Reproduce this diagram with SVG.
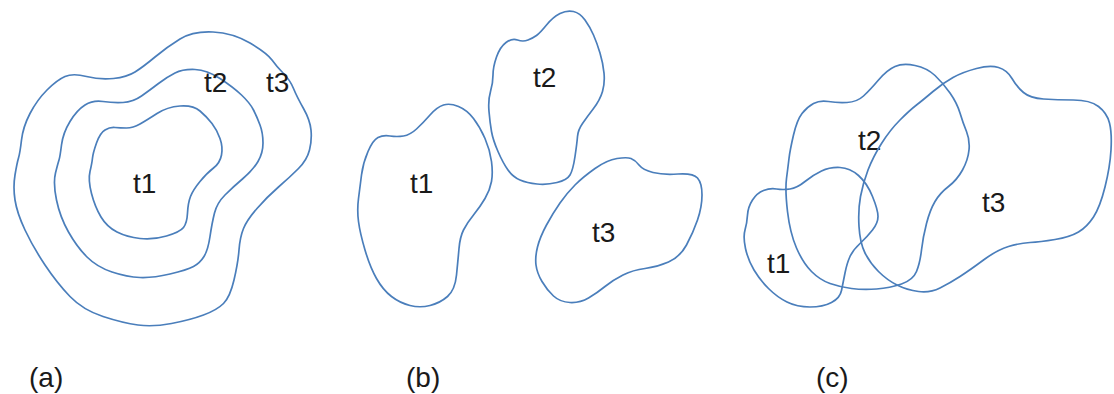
<svg xmlns="http://www.w3.org/2000/svg" width="1114" height="394" viewBox="0 0 1114 394">
<style>
.r{fill:none;stroke:#4a7ebb;stroke-width:1.7;stroke-linejoin:round}
.t{font-family:"Liberation Sans",Arial,sans-serif;font-size:28px;fill:#1a1a1a}
.c{font-family:"Liberation Sans",Arial,sans-serif;font-size:28px;fill:#1a1a1a}
</style>
<rect width="1114" height="394" fill="#ffffff"/>
<g id="panel-a">
<g id="a-t3">
<path class="r" d="M213,32 Q233,33 250,43 Q267,53 272,60 Q277,67 283.5,73.5 Q290,80 293.5,88.5 Q297,97 303.5,108.5 Q310,120 311,130 Q312,140 309.5,150 Q307,160 298.5,168.5 Q290,177 278.5,187 Q267,197 257,208.5 Q247,220 243.5,228.5 Q240,237 239,250 Q238,263 234,280 Q230,297 223.5,303.5 Q217,310 203.5,315 Q190,320 171.5,323.5 Q153,327 138,325 Q123,323 103,316.5 Q83,310 70,296.5 Q57,283 45,265 Q33,247 25,230 Q17,213 15,200 Q13,187 15,175 Q17,163 18.5,158 Q20,153 21.5,140 Q23,127 30,113.5 Q37,100 47,90 Q57,80 65,76.5 Q73,73 86.5,76.5 Q100,80 113.5,78.5 Q127,77 135,72 Q143,67 155,57 Q167,47 180,39 Q193,31 213,32 Z"/>
<text class="t" x="266" y="92">t3</text>
</g>
<g id="a-t2">
<path class="r" d="M195,69.5 Q207,70 220,78.5 Q233,87 241.5,95 Q250,103 253.5,110 Q257,117 260,125 Q263,133 263,143 Q263,153 258,161.5 Q253,170 243,178.5 Q233,187 225,195 Q217,203 214.5,213 Q212,223 210,236.5 Q208,250 204,256.5 Q200,263 193.5,266.5 Q187,270 170,274 Q153,278 140,277.5 Q127,277 112,272 Q97,267 87,257 Q77,247 68.5,232 Q60,217 56.5,200 Q53,183 55.5,173 Q58,163 59,160 Q60,157 61.5,145 Q63,133 70,121.5 Q77,110 85,105 Q93,100 103,101.5 Q113,103 123,102.5 Q133,102 141.5,96 Q150,90 158.5,83.5 Q167,77 175,73 Q183,69 195,69.5 Z"/>
<text class="t" x="204" y="92">t2</text>
</g>
<g id="a-t1">
<path class="r" d="M180,106 Q193,105 200,111 Q207,117 212,123.5 Q217,130 220,138.5 Q223,147 221.5,155 Q220,163 213.5,168 Q207,173 200,181.5 Q193,190 190.5,196.5 Q188,203 187.5,213 Q187,223 183.5,227.5 Q180,232 166.5,236 Q153,240 140,238.5 Q127,237 117,232 Q107,227 101,217 Q95,207 91.5,193.5 Q88,180 90,171.5 Q92,163 92.5,158 Q93,153 96.5,143 Q100,133 105,130 Q110,127 115,127.5 Q120,128 126.5,128 Q133,128 140,124 Q147,120 157,113.5 Q167,107 180,106 Z"/>
<text class="t" x="133" y="193">t1</text>
</g>
</g>
<g id="panel-b">
<g id="b-t1">
<path class="r" d="M458.5,106.5 Q467,110 473.5,118.5 Q480,127 485,138.5 Q490,150 491.5,161.5 Q493,173 491.5,181.5 Q490,190 485,198.5 Q480,207 473.5,215 Q467,223 463.5,230 Q460,237 459,248.5 Q458,260 456.5,275 Q455,290 447.5,296.5 Q440,303 430,305.5 Q420,308 410,305.5 Q400,303 391.5,296.5 Q383,290 376.5,278.5 Q370,267 365,250 Q360,233 358.5,221.5 Q357,210 358.5,198.5 Q360,187 361.5,175 Q363,163 368,151.5 Q373,140 378,137.5 Q383,135 390,136 Q397,137 403.5,136 Q410,135 416.5,129 Q423,123 430,115 Q437,107 443.5,105 Q450,103 458.5,106.5 Z"/>
<text class="t" x="410" y="193">t1</text>
</g>
<g id="b-t2">
<path class="r" d="M573.5,11.5 Q580,13 585,20 Q590,27 593.5,35 Q597,43 600,53 Q603,63 604,73 Q605,83 602.5,91.5 Q600,100 593.5,108.5 Q587,117 582.5,123.5 Q578,130 577.5,136.5 Q577,143 575,156.5 Q573,170 570,175 Q567,180 557,182.5 Q547,185 537,184 Q527,183 520,180 Q513,177 508,170 Q503,163 498,151.5 Q493,140 491.5,131.5 Q490,123 489,111.5 Q488,100 490.5,91.5 Q493,83 493,75 Q493,67 496.5,57 Q500,47 506,42.5 Q512,38 517.5,40 Q523,42 528,40 Q533,38 536.5,35.5 Q540,33 546.5,25 Q553,17 560,13.5 Q567,10 573.5,11.5 Z"/>
<text class="t" x="533" y="87">t2</text>
</g>
<g id="b-t3">
<path class="r" d="M631,158.5 Q635,160 639,165 Q643,170 653,172.5 Q663,175 678,174 Q693,173 697.5,178 Q702,183 702,195 Q702,207 697.5,220 Q693,233 686.5,245 Q680,257 668.5,262 Q657,267 645,268.5 Q633,270 623,275 Q613,280 605,286.5 Q597,293 588.5,298 Q580,303 570,302.5 Q560,302 553.5,296 Q547,290 542,281.5 Q537,273 536,265 Q535,257 537.5,247 Q540,237 546.5,225 Q553,213 560,203 Q567,193 575,185 Q583,177 595,168.5 Q607,160 617,158.5 Q627,157 631,158.5 Z"/>
<text class="t" x="592" y="242">t3</text>
</g>
</g>
<g id="panel-c">
<g id="c-t2">
<path class="r" d="M915,65.5 Q927,68 935,75.5 Q943,83 950,93 Q957,103 960,113 Q963,123 966.5,131.5 Q970,140 969,150 Q968,160 962.5,170 Q957,180 948.5,186.5 Q940,193 935,201.5 Q930,210 926.5,223.5 Q923,237 921.5,250 Q920,263 916.5,271.5 Q913,280 901.5,284 Q890,288 876.5,289 Q863,290 851.5,288.5 Q840,287 830,283.5 Q820,280 811.5,271.5 Q803,263 796.5,248 Q790,233 787.5,211.5 Q785,190 786.5,178.5 Q788,167 789,158.5 Q790,150 793.5,135 Q797,120 802,113.5 Q807,107 813.5,103.5 Q820,100 828.5,101.5 Q837,103 847,102.5 Q857,102 863.5,96 Q870,90 878.5,80 Q887,70 895,66.5 Q903,63 915,65.5 Z"/>
<text class="t" x="858" y="150">t2</text>
</g>
<g id="c-t3">
<path class="r" d="M998.5,67.5 Q1007,70 1012,78.5 Q1017,87 1023.5,92.5 Q1030,98 1043.5,99 Q1057,100 1073.5,100 Q1090,100 1098.5,106.5 Q1107,113 1109.5,123 Q1112,133 1111,150 Q1110,167 1105,187 Q1100,207 1093.5,217 Q1087,227 1078.5,232 Q1070,237 1055,239.5 Q1040,242 1030,242.5 Q1020,243 1008.5,246.5 Q997,250 983.5,260 Q970,270 960,276.5 Q950,283 940,288 Q930,293 918.5,291.5 Q907,290 897,285 Q887,280 878.5,271.5 Q870,263 865,253 Q860,243 859,226.5 Q858,210 860.5,196.5 Q863,183 868,170 Q873,157 881.5,143.5 Q890,130 900,120 Q910,110 916.5,105 Q923,100 933,91.5 Q943,83 953,77.5 Q963,72 976.5,68.5 Q990,65 998.5,67.5 Z"/>
<text class="t" x="982" y="212">t3</text>
</g>
<g id="c-t1">
<path class="r" d="M840,167.5 Q850,168 858.5,175.5 Q867,183 872.5,196.5 Q878,210 878,216.5 Q878,223 872.5,230 Q867,237 860,243.5 Q853,250 850,256.5 Q847,263 845,273 Q843,283 841.5,290.5 Q840,298 831.5,302.5 Q823,307 810,307 Q797,307 787,302 Q777,297 768.5,288.5 Q760,280 754,270 Q748,260 745.5,248.5 Q743,237 745,230 Q747,223 747.5,215 Q748,207 752.5,200 Q757,193 763.5,190.5 Q770,188 776.5,189 Q783,190 790,189 Q797,188 805,181.5 Q813,175 821.5,171 Q830,167 840,167.5 Z"/>
<text class="t" x="767" y="273">t1</text>
</g>
</g>
<g id="captions">
<text class="c" x="29" y="387">(a)</text>
<text class="c" x="406" y="387">(b)</text>
<text class="c" x="816" y="387">(c)</text>
</g>
</svg>
